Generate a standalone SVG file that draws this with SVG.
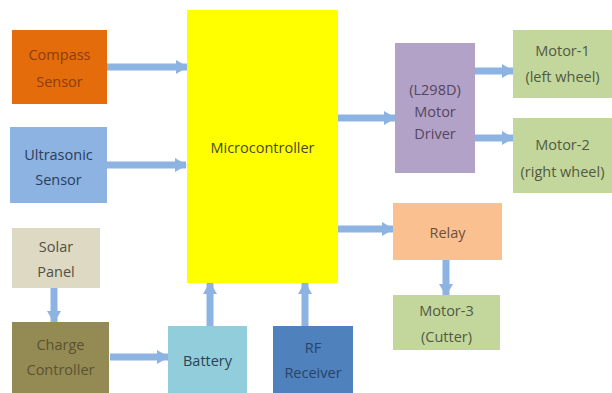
<svg xmlns="http://www.w3.org/2000/svg" width="612" height="393" viewBox="0 0 612 393">
<style>
text{font-family:"Open Sans","Liberation Sans",sans-serif;font-size:14.5px;text-anchor:middle;fill:#4a4a4a}
.c{stroke:#8db3e2;stroke-width:7;fill:none}
</style>
<defs>
<marker id="ah" markerUnits="userSpaceOnUse" markerWidth="12" markerHeight="14" refX="11" refY="7" orient="auto">
<path d="M0,0 L12,7 L0,14 Z" fill="#8db3e2"/>
</marker>
</defs>
<rect width="612" height="393" fill="#ffffff"/>
<g id="connectors">
<line class="c" x1="107" y1="67" x2="187" y2="67" marker-end="url(#ah)"/>
<line class="c" x1="107" y1="165" x2="186" y2="165" marker-end="url(#ah)"/>
<line class="c" x1="338" y1="118" x2="395" y2="118" marker-end="url(#ah)"/>
<line class="c" x1="338" y1="229" x2="393" y2="229" marker-end="url(#ah)"/>
<line class="c" x1="475" y1="71" x2="513" y2="71" marker-end="url(#ah)"/>
<line class="c" x1="475" y1="138" x2="513" y2="138" marker-end="url(#ah)"/>
<line class="c" x1="446" y1="260" x2="446" y2="295" marker-end="url(#ah)"/>
<line class="c" x1="54" y1="288" x2="54" y2="322" marker-end="url(#ah)"/>
<line class="c" x1="110" y1="357" x2="168" y2="357" marker-end="url(#ah)"/>
<line class="c" x1="210" y1="326" x2="210" y2="283" marker-end="url(#ah)"/>
<line class="c" x1="305" y1="326" x2="305" y2="283" marker-end="url(#ah)"/>
</g>
<g id="compass"><rect x="12" y="30" width="95" height="74" fill="#e46c0a"/><text x="59.5" y="60" style="fill:#8a3e0c">Compass</text><text x="59.5" y="87" style="fill:#8a3e0c">Sensor</text></g>
<g id="ultrasonic"><rect x="10" y="127" width="97" height="76" fill="#8db3e2"/><text x="58.5" y="160" style="fill:#2a3d5c">Ultrasonic</text><text x="58.5" y="185" style="fill:#2a3d5c">Sensor</text></g>
<g id="microcontroller"><rect x="187" y="10" width="151" height="273" fill="#ffff00"/><text x="262.5" y="153" style="fill:#4a4a20">Microcontroller</text></g>
<g id="solar"><rect x="12" y="228" width="88" height="60" fill="#ddd9c3"/><text x="56" y="252" style="fill:#505048">Solar</text><text x="56" y="277" style="fill:#505048">Panel</text></g>
<g id="charge"><rect x="12" y="322" width="97" height="71" fill="#948a54"/><text x="60.5" y="350" style="fill:#5a5330">Charge</text><text x="60.5" y="375" style="fill:#5a5330">Controller</text></g>
<g id="battery"><rect x="168" y="326" width="79" height="67" fill="#92cddc"/><text x="207.5" y="366" style="fill:#2a4454">Battery</text></g>
<g id="rf"><rect x="273" y="326" width="80" height="67" fill="#4f81bd"/><text x="313" y="353" style="fill:#284468">RF</text><text x="313" y="378" style="fill:#284468">Receiver</text></g>
<g id="driver"><rect x="395" y="43" width="80" height="130" fill="#b3a2c7"/><text x="435" y="95" style="fill:#54465f">(L298D)</text><text x="435" y="117" style="fill:#54465f">Motor</text><text x="435" y="139" style="fill:#54465f">Driver</text></g>
<g id="motor1"><rect x="513" y="30" width="99" height="68" fill="#c3d69b"/><text x="562.5" y="56" style="fill:#505a44">Motor-1</text><text x="562.5" y="82" style="fill:#505a44">(left  wheel)</text></g>
<g id="motor2"><rect x="513" y="118" width="99" height="75" fill="#c3d69b"/><text x="562.5" y="150" style="fill:#505a44">Motor-2</text><text x="562.5" y="177" style="fill:#505a44">(right wheel)</text></g>
<g id="relay"><rect x="393" y="203" width="109" height="57" fill="#fac090"/><text x="447.5" y="238" style="fill:#6e5038">Relay</text></g>
<g id="motor3"><rect x="393" y="295" width="107" height="55" fill="#c3d69b"/><text x="446.5" y="316" style="fill:#505a44">Motor-3</text><text x="446.5" y="342" style="fill:#505a44">(Cutter)</text></g>
</svg>
